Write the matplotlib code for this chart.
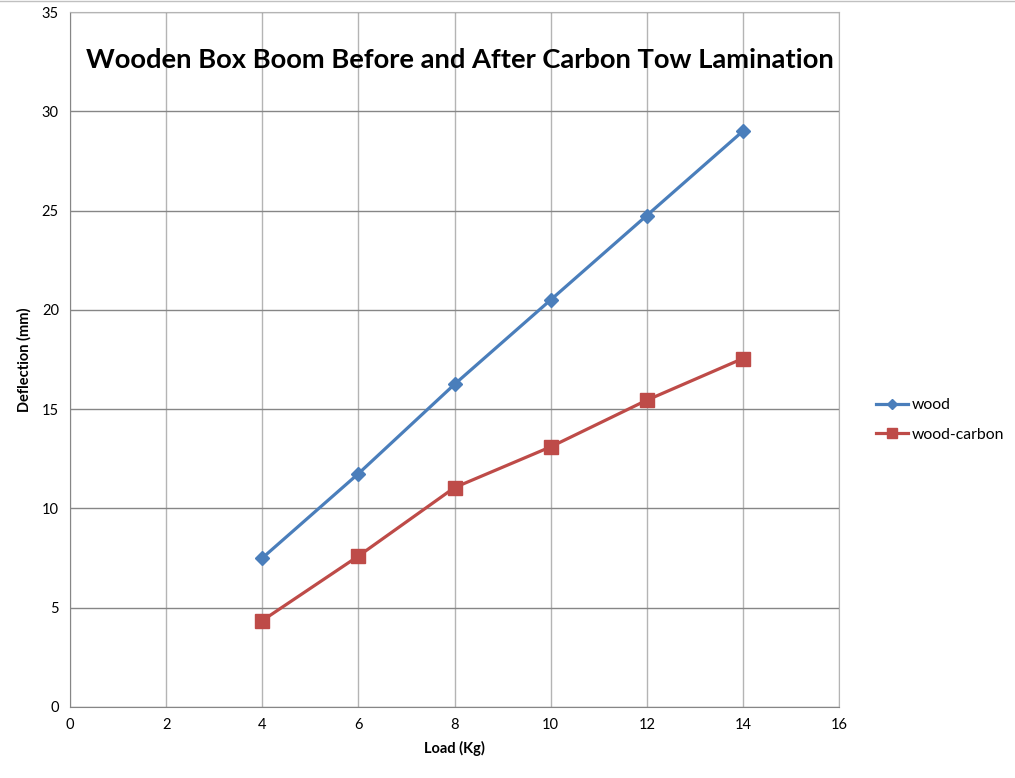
import matplotlib
matplotlib.use("Agg")
import matplotlib.pyplot as plt
from matplotlib.lines import Line2D

load = [4, 6, 8, 10, 12, 14]
wood = [7.5, 11.75, 16.25, 20.5, 24.75, 29.0]
wood_carbon = [4.35, 7.6, 11.05, 13.1, 15.45, 17.55]
xticks = [0, 2, 4, 6, 8, 10, 12, 14, 16]
yticks = [0, 5, 10, 15, 20, 25, 30, 35]

plt.rcParams['font.family'] = ['Lato', 'DejaVu Sans']

fig = plt.figure(figsize=(10.15, 7.78), dpi=100)
ax = fig.add_axes([70/1015, 1-707/778, (839-70)/1015, (707-12)/778])

blue = '#4A7EBB'
red = '#BE4B48'
ax.plot(load, wood, color=blue, lw=2.3, marker='D', ms=7, mfc=blue, mec=blue, label='wood', zorder=3)
ax.plot(load, wood_carbon, color=red, lw=2.3, marker='s', ms=9.5, mfc=red, mec=red, label='wood-carbon', zorder=3)

ax.set_xlim(0, 16)
ax.set_ylim(0, 35)
ax.set_xticks(xticks)
ax.set_yticks(yticks)
ax.xaxis.grid(True, color='#b4b4b4', lw=1)
ax.yaxis.grid(True, color='#868686', lw=1)
ax.set_axisbelow(True)
for s in ['top', 'right']:
    ax.spines[s].set_color('#b4b4b4')
for s in ['left', 'bottom']:
    ax.spines[s].set_color('#868686')
ax.tick_params(length=0, labelsize=10.5, pad=8)

ax.set_xlabel('Load (Kg)', fontsize=10.5, fontweight='bold', labelpad=6)
ax.set_ylabel('Deflection (mm)', fontsize=10.5, fontweight='bold', labelpad=7)

fig.text(460/1015, 1-60/778, 'Wooden Box Boom Before and After Carbon Tow Lamination',
         ha='center', va='center', fontsize=19.7, fontweight='bold')

fig.legend(loc='center left', bbox_to_anchor=(862/1015, 1-420/778), frameon=False,
           fontsize=11.3, handlelength=2.0, labelspacing=1.0, handletextpad=0.25,
           markerscale=0.8)

fig.add_artist(Line2D([0, 1], [0.999, 0.999], color='#c0c0c0', lw=1, transform=fig.transFigure))

fig.savefig('out.png', dpi=100)
